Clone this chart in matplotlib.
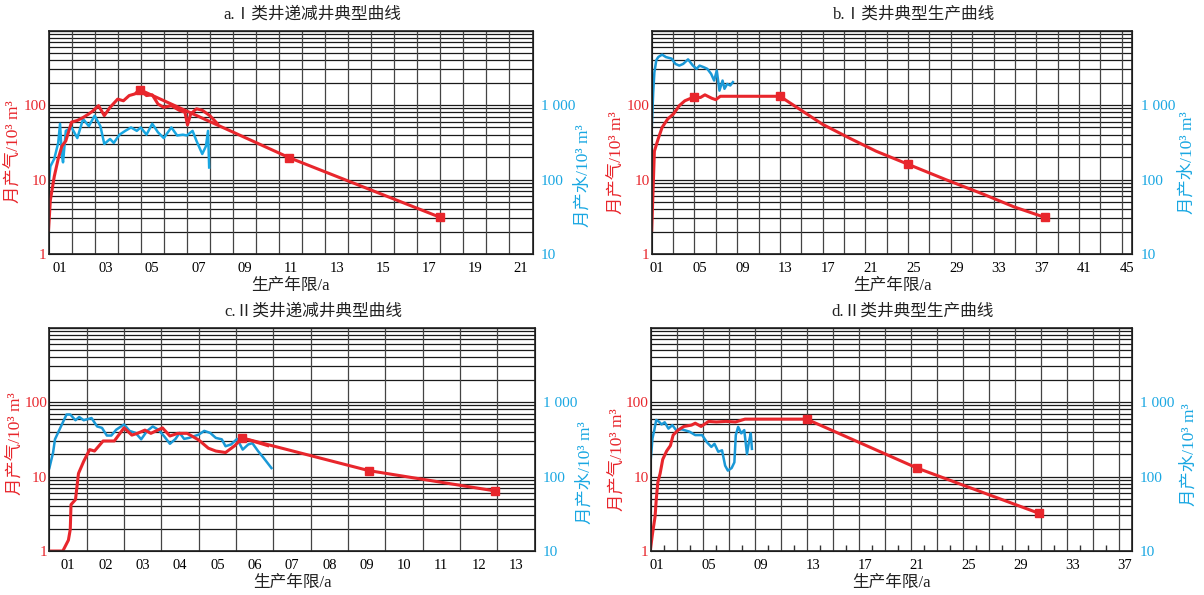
import numpy as np
import matplotlib
matplotlib.use("Agg")
import matplotlib.pyplot as plt
from matplotlib.ticker import FixedLocator, NullFormatter, NullLocator

plt.rcParams['font.family'] = ['Liberation Serif', 'Noto Sans CJK SC']

RED = '#e8262c'
BLUE = '#19a7e2'
BLUE_DARK = '#1a98d6'

# ---- a. I类井递减井 ----
a_gas_x = [0, 0.08, 0.25, 0.42, 0.58, 0.75, 1.0, 1.25, 1.5, 1.75, 1.92, 2.17, 2.42, 2.67,
           3.0, 3.25, 3.5, 3.75, 3.95, 4.25, 4.5, 4.75, 5.0, 5.33, 5.67, 5.92, 6.03, 6.17,
           6.42, 6.67, 7.0, 7.33]
a_gas_y = [2.1, 5.3, 11, 19, 28, 33, 59, 62, 68, 76, 83, 98, 72, 93,
           120, 114, 134, 141, 161, 134, 137, 103, 93, 98, 85, 80, 54, 76,
           89, 85, 72, 56]
a_fc_x = [3.95, 10.45, 17.0]
a_fc_y = [161, 19.6, 3.1]
a_water_x = [0.0, 0.08, 0.25, 0.42, 0.5, 0.58, 0.63, 0.75, 1.0, 1.25, 1.5, 1.75, 2.0, 2.25,
             2.42, 2.67, 2.83, 3.08, 3.33, 3.58, 3.83, 4.0, 4.25, 4.5, 4.75, 5.0, 5.33,
             5.58, 5.83, 6.0, 6.25, 6.42, 6.67, 6.83, 6.92, 6.97]
a_water_y = [80, 150, 190, 310, 560, 210, 170, 450, 500, 360, 650, 520, 720, 520,
             300, 350, 310, 400, 450, 500, 450, 500, 400, 560, 430, 360, 500,
             390, 400, 390, 450, 330, 220, 280, 450, 145]

# ---- b. I类井 ----
b_gas_x = [0, 0.25, 0.6, 0.97, 1.5, 2.04, 2.58, 3.1, 4.0, 4.55, 4.98, 5.63, 5.99, 6.42,
           12.0, 16.0, 18.5, 21.0, 24.0, 27.5, 31.1, 33.9, 36.8]
b_gas_y = [2.1, 24, 35, 50, 65, 76, 98, 114, 129, 126, 137, 123, 118, 131,
           131, 55, 36, 24, 16, 10, 6.3, 4.3, 3.1]
b_mark_x = [4.0, 12.0, 24.0, 36.8]
b_mark_y = [129, 131, 16, 3.1]
b_water_x = [0, 0.14, 0.25, 0.43, 0.61, 0.97, 1.33, 1.86, 2.22, 2.58, 2.94, 3.4, 3.84,
             4.2, 4.48, 4.84, 5.2, 5.56, 5.84, 6.09, 6.34, 6.63, 6.81, 7.06, 7.35, 7.6]
b_water_y = [480, 1480, 2760, 4000, 4400, 4750, 4400, 4200, 3560, 3380, 3560, 4100, 3400,
             3060, 3380, 3230, 3060, 2620, 2130, 2900, 1560, 2130, 1650, 1920, 1830, 2030]

# ---- c. II类井递减井 ----
c_gas_x = [0, 0.36, 0.43, 0.51, 0.56, 0.58, 0.7, 0.78, 0.92, 1.08, 1.21, 1.44, 1.74, 2.0,
           2.21, 2.36, 2.56, 2.72, 3.03, 3.23, 3.44, 3.69, 4.0, 4.26, 4.46, 4.72, 4.97,
           5.16, 5.44, 5.85]
c_gas_y = [1.0, 1.0, 1.17, 1.4, 1.95, 4.2, 4.9, 11, 16, 23, 22, 30, 30, 45,
           36, 38, 42, 38, 45, 35, 38, 38, 31, 24, 22, 21, 26,
           33, 30, 26]
c_fc_x = [5.16, 8.56, 11.95]
c_fc_y = [33, 12, 6.4]
c_water_x = [0, 0.1, 0.15, 0.31, 0.46, 0.56, 0.7, 0.8, 0.92, 1.13, 1.28, 1.41, 1.54, 1.66,
             1.79, 2.0, 2.15, 2.31, 2.46, 2.62, 2.77, 2.92, 3.08, 3.23, 3.38, 3.49, 3.61,
             3.74, 4.0, 4.15, 4.31, 4.46, 4.62, 4.72, 4.87, 5.03, 5.18, 5.33, 5.44, 5.59,
             5.74, 5.95]
c_water_y = [130, 210, 316, 470, 680, 680, 570, 630, 570, 610, 470, 450, 355, 355,
             425, 500, 410, 385, 316, 410, 470, 425, 345, 275, 320, 385, 320,
             330, 365, 410, 385, 330, 316, 255, 270, 320, 230, 270, 280, 220,
             178, 130]

# ---- d. II类井 ----
d_gas_x = [0, 0.15, 0.35, 0.44, 0.56, 0.74, 0.94, 1.24, 1.53, 1.74, 2.12, 2.56, 3.15,
           3.44, 3.89, 4.47, 5.06, 5.8, 6.54, 7.27, 12.0, 20.5, 29.9]
d_gas_y = [1.07, 1.7, 2.9, 4.9, 8.3, 11, 17, 22, 26, 36, 42, 47, 49,
           52, 47, 55, 54, 55, 54, 59, 59, 13, 3.2]
d_mark_x = [12.0, 20.5, 29.9]
d_mark_y = [59, 13, 3.2]
d_water_x = [0, 0.15, 0.29, 0.44, 0.65, 0.85, 1.09, 1.38, 1.68, 1.97, 2.41, 3.0, 3.44,
             3.97, 4.33, 4.68, 4.92, 5.21, 5.5, 5.74, 5.95, 6.24, 6.45, 6.56, 6.74,
             6.98, 7.21, 7.42, 7.57, 7.71, 7.8]
d_water_y = [155, 325, 420, 575, 545, 500, 535, 440, 490, 420, 430, 400, 360,
             360, 290, 250, 275, 215, 225, 140, 120, 130, 155, 360, 465,
             380, 420, 200, 290, 380, 235]

a_xticks = ['01', '03', '05', '07', '09', '11', '13', '15', '17', '19', '21']
b_xticks = ['01', '05', '09', '13', '17', '21', '25', '29', '33', '37', '41', '45']
c_xticks = ['01', '02', '03', '04', '05', '06', '07', '08', '09', '10', '11', '12', '13']
d_xticks = ['01', '05', '09', '13', '17', '21', '25', '29', '33', '37']


def panel(rect, title, xmax, grid_step, label_step, xlabels, left_lab, right_lab,
          odd_ticks=False):
    ax = fig.add_axes(rect)
    ax.set_yscale('log')
    ax.set_ylim(1, 1000)
    ax.set_xlim(0, xmax)
    ax2 = ax.twinx()
    ax2.set_yscale('log')
    ax2.set_ylim(10, 10000)
    ax.set_zorder(ax2.get_zorder() + 1)
    ax.patch.set_visible(False)

    # grid on the lower axes
    minors = [m * d for d in (10, 100, 1000) for m in range(1, 10)] + [10000]
    ax2.yaxis.set_minor_locator(FixedLocator(minors))
    ax2.yaxis.set_minor_formatter(NullFormatter())
    ax2.grid(which='both', axis='y', color='#1a1a1a', lw=0.9)
    for gx in np.arange(grid_step, xmax, grid_step):
        ax2.axvline(gx, color='#444444', lw=0.9)

    ax.set_yticks([1, 10, 100])
    ax.set_yticklabels(['1', '10', '100'])
    ax.yaxis.set_minor_locator(NullLocator())
    ax2.set_yticks([10, 100, 1000])
    ax2.set_yticklabels(['10', '100', '1 000'])
    ax.tick_params(axis='y', length=0, pad=1.5, labelcolor=RED, labelsize=11)
    ax2.tick_params(axis='y', which='both', length=0, pad=6, labelcolor=BLUE, labelsize=11)

    ax.set_xticks(np.arange(0.5, xmax, label_step))
    ax.set_xticklabels(xlabels)
    ax.tick_params(axis='x', length=0, pad=6, labelsize=10.5)
    if odd_ticks:
        ax.xaxis.set_minor_locator(FixedLocator(np.arange(1, xmax, 2)))
        ax.tick_params(axis='x', which='minor', length=4, width=1, direction='in',
                       color='#333333')

    for s in ax.spines.values():
        s.set_linewidth(1.2)
        s.set_color('#222222')

    ax.text(0.545, 1.072, title, transform=ax.transAxes, ha='center', va='center',
            fontsize=12, color='#222222')
    ax.set_xlabel('生产年限/a', fontsize=12, labelpad=2, color='#222222')
    ax.set_ylabel('月产气/10³ m³', fontsize=12.5, color=RED)
    ax.yaxis.set_label_coords(left_lab[0], left_lab[1])
    ax2.set_ylabel('月产水/10³ m³', fontsize=12.5, color=BLUE, rotation=90)
    ax2.yaxis.set_label_coords(right_lab[0], right_lab[1])
    return ax, ax2


fig = plt.figure(figsize=(12.04, 5.95), dpi=100)

ax, ax2 = panel([0.0403, 0.5731, 0.402, 0.3756], 'a.Ⅰ类井递减井典型曲线', 21, 1, 2,
                a_xticks, (-0.053, 0.46), (1.088, 0.35))
ax2.plot(a_water_x, a_water_y, color=BLUE, lw=1.8)
ax.plot(a_gas_x, a_gas_y, color=RED, lw=2.2)
ax.plot(a_fc_x, a_fc_y, color=RED, lw=2.2, marker='s', ms=6)

ax, ax2 = panel([0.5413, 0.5731, 0.3993, 0.3756], 'b.Ⅰ类井典型生产曲线', 45, 2, 4,
                b_xticks, (-0.055, 0.41), (1.097, 0.41))
ax2.plot(b_water_x, b_water_y, color=BLUE_DARK, lw=1.8)
ax.plot(b_gas_x, b_gas_y, color=RED, lw=2.2)
ax.plot(b_mark_x, b_mark_y, ls='none', color=RED, marker='s', ms=6)

ax, ax2 = panel([0.041, 0.0739, 0.403, 0.3756], 'c.Ⅱ类井递减井典型曲线', 13, 1, 1,
                c_xticks, (-0.052, 0.48), (1.087, 0.35))
ax2.plot(c_water_x, c_water_y, color=BLUE_DARK, lw=1.8)
ax.plot(c_gas_x, c_gas_y, color=RED, lw=2.2)
ax.plot(c_fc_x, c_fc_y, color=RED, lw=2.2, marker='s', ms=6)

ax, ax2 = panel([0.5403, 0.0739, 0.3995, 0.3756], 'd.Ⅱ类井典型生产曲线', 37, 2, 4,
                d_xticks, (-0.049, 0.41), (1.103, 0.43), odd_ticks=True)
ax2.plot(d_water_x, d_water_y, color=BLUE_DARK, lw=1.8)
ax.plot(d_gas_x, d_gas_y, color=RED, lw=2.2)
ax.plot(d_mark_x, d_mark_y, ls='none', color=RED, marker='s', ms=6)

fig.savefig('out.png', dpi=100)
